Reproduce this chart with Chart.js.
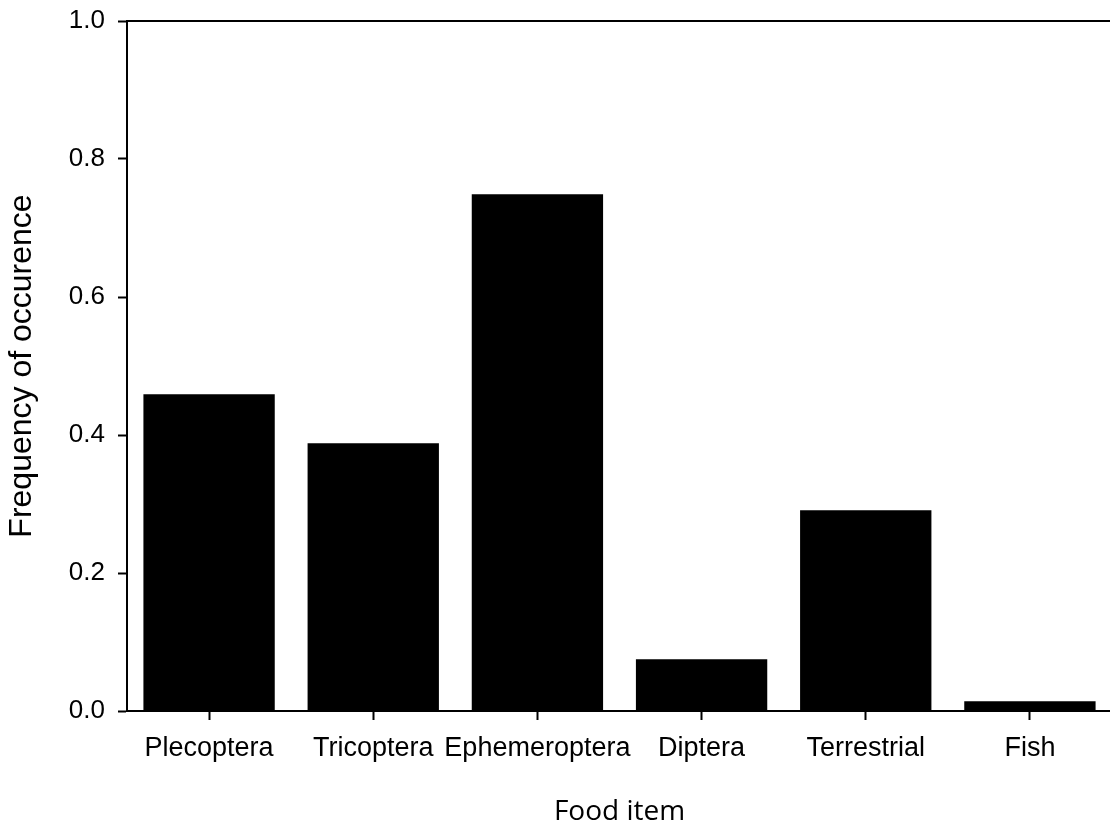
<!DOCTYPE html>
<html>
<head>
<meta charset="utf-8">
<script src="https://cdn.jsdelivr.net/npm/chart.js@4.4.1/dist/chart.umd.min.js"></script>
<style>
  html, body { margin: 0; padding: 0; background: #fff; overflow: hidden; }
  #wrap { position: relative; width: 1114px; height: 829px; }
</style>
</head>
<body>
<div id="wrap"><canvas id="c"></canvas></div>
<script>
const categories = ['Plecoptera', 'Tricoptera', 'Ephemeroptera', 'Diptera', 'Terrestrial', 'Fish'];
const frequency = [0.459, 0.388, 0.749, 0.075, 0.291, 0.014];
const yTicks = [0.0, 0.2, 0.4, 0.6, 0.8, 1.0];
const yAxisTitle = 'Frequency of occurence';
const xAxisTitle = 'Food item';

const topBorder = {
  id: 'topBorder',
  afterDraw(chart) {
    const a = chart.chartArea, ctx = chart.ctx;
    ctx.save();
    ctx.strokeStyle = '#000';
    ctx.lineWidth = 2;
    ctx.beginPath();
    ctx.moveTo(a.left - 1, a.top);
    ctx.lineTo(a.right + 2, a.top);
    ctx.stroke();
    ctx.restore();
  }
};

new Chart(document.getElementById('c'), {
  type: 'bar',
  data: {
    labels: categories,
    datasets: [{
      data: frequency,
      backgroundColor: '#000',
      borderWidth: 0,
      barPercentage: 0.8,
      categoryPercentage: 1.0
    }]
  },
  options: {
    responsive: true,
    maintainAspectRatio: false,
    animation: false,
    layout: { padding: { top: 21, right: 2, bottom: 0, left: 0 } },
    plugins: { legend: { display: false }, tooltip: { enabled: false } },
    scales: {
      x: {
        grid: { display: true, offset: false, drawOnChartArea: false, tickLength: 9, tickColor: '#000', tickWidth: 2 },
        border: { display: true, color: '#000', width: 2 },
        ticks: { color: '#000', font: { family: 'Liberation Sans, Arial', size: 27 }, padding: 12, maxRotation: 0, autoSkip: false },
        title: { display: true, text: xAxisTitle, color: '#000', font: { family: 'Open Sans', size: 28 }, padding: { top: 12, bottom: 0 } },
        afterFit(scale) { scale.height = 118; scale.paddingLeft = 0; scale.paddingRight = 0; }
      },
      y: {
        min: 0, max: 1,
        afterBuildTicks(scale) { scale.ticks = yTicks.map(v => ({ value: v })); },
        grid: { display: true, drawOnChartArea: false, tickLength: 9, tickColor: '#000', tickWidth: 2 },
        border: { display: true, color: '#000', width: 2 },
        ticks: { color: '#000', font: { family: 'Liberation Sans, Arial', size: 26 }, padding: 13, callback: v => Number(v).toFixed(1) },
        title: { display: true, text: yAxisTitle, color: '#000', font: { family: 'Liberation Sans, Arial', size: 32 }, padding: { top: 3, bottom: 0 } },
        afterFit(scale) { scale.width = 127; scale.paddingTop = 0; scale.paddingBottom = 0; }
      }
    }
  },
  plugins: [topBorder]
});
</script>
</body>
</html>
